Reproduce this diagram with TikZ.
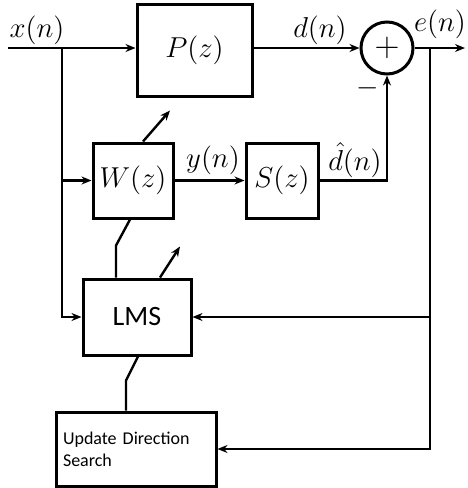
\documentclass[tikz,border=0pt]{standalone}
\usepackage{fontspec}
\newfontfamily\lblfont{Carlito}
\usetikzlibrary{arrows.meta,positioning}

\begin{document}
\begin{tikzpicture}[x=0.5pt, y=-0.5pt, line width=1.2pt,
    >={Stealth[length=5pt,width=4pt]},
    blk/.style={draw, line width=1.5pt, inner sep=0pt},
    lbl/.style={font=\fontsize{14}{16}\selectfont, inner sep=1pt}]
  \useasboundingbox (0,0) rectangle (467,488);
  % blocks
  \node[blk, minimum width=57.5pt, minimum height=46pt, lbl] (P) at (194.5,50) {$P(z)$};
  \node[blk, circle, minimum size=26pt, font=\fontsize{16}{18}\selectfont] (sum) at (387,48) {$+$};
  \node[blk, minimum width=40pt, minimum height=37.5pt, lbl] (W) at (133,180.5) {$W(z)$};
  \node[blk, minimum width=36pt, minimum height=37.5pt, lbl] (S) at (282,180.5) {$S(z)$};
  \node[blk, minimum width=54pt, minimum height=38pt, font=\lblfont\fontsize{14}{16}\selectfont] (LMS) at (137,317) {LMS};
  \node[blk, minimum width=80pt, minimum height=37pt, align=left, text width=73pt,
        font=\lblfont\fontsize{9}{11}\selectfont] (U) at (136,449) {Update Direction\\Search};
  \coordinate (xin) at (8,48);
  \coordinate (j1) at (62,48);
  \coordinate (tap) at (430,48);
  \coordinate (eout) at (465,48);
  % signal paths
  \draw[->] (xin) -- (P.west |- xin);
  \draw[->] (P.east |- sum.west) -- (sum.west);
  \draw[->] (sum.east) -- (eout);
  \draw[->] (j1) |- (LMS.west);
  \draw[->] (j1 |- W.west) -- (W.west);
  \draw[->] (W.east) -- (S.west);
  \draw[->] (S.east) -| (sum.south);
  \draw[->] (tap) |- (U.east);
  \draw[->] (tap |- LMS.east) -- (LMS.east);
  % adaptation
  \draw[->] ([xshift=5pt]W.north) -- ++(27,-31);
  \draw[->] ([xshift=11.5pt]LMS.north) -- ++(20,-31);
  \draw ([xshift=-10.5pt]LMS.north) -- ++(0,-32) -- ([xshift=-1.5pt]W.south);
  \draw ([xshift=-5pt]U.north) -- ++(0,-30) -- ([xshift=0.5pt]LMS.south);
  % labels
  \node[lbl] (xlbl) at (37,30) {$x(n)$};
  \node[lbl] (dlbl) at (320,30) {$d(n)$};
  \node[lbl] (elbl) at (440,24) {$e(n)$};
  \node[lbl] (ylbl) at (213,160) {$y(n)$};
  \node[lbl] (dhlbl) at (355,160) {$\hat{d}(n)$};
  \node[lbl] (minus) at (368,88) {$-$};
\end{tikzpicture}
\end{document}
